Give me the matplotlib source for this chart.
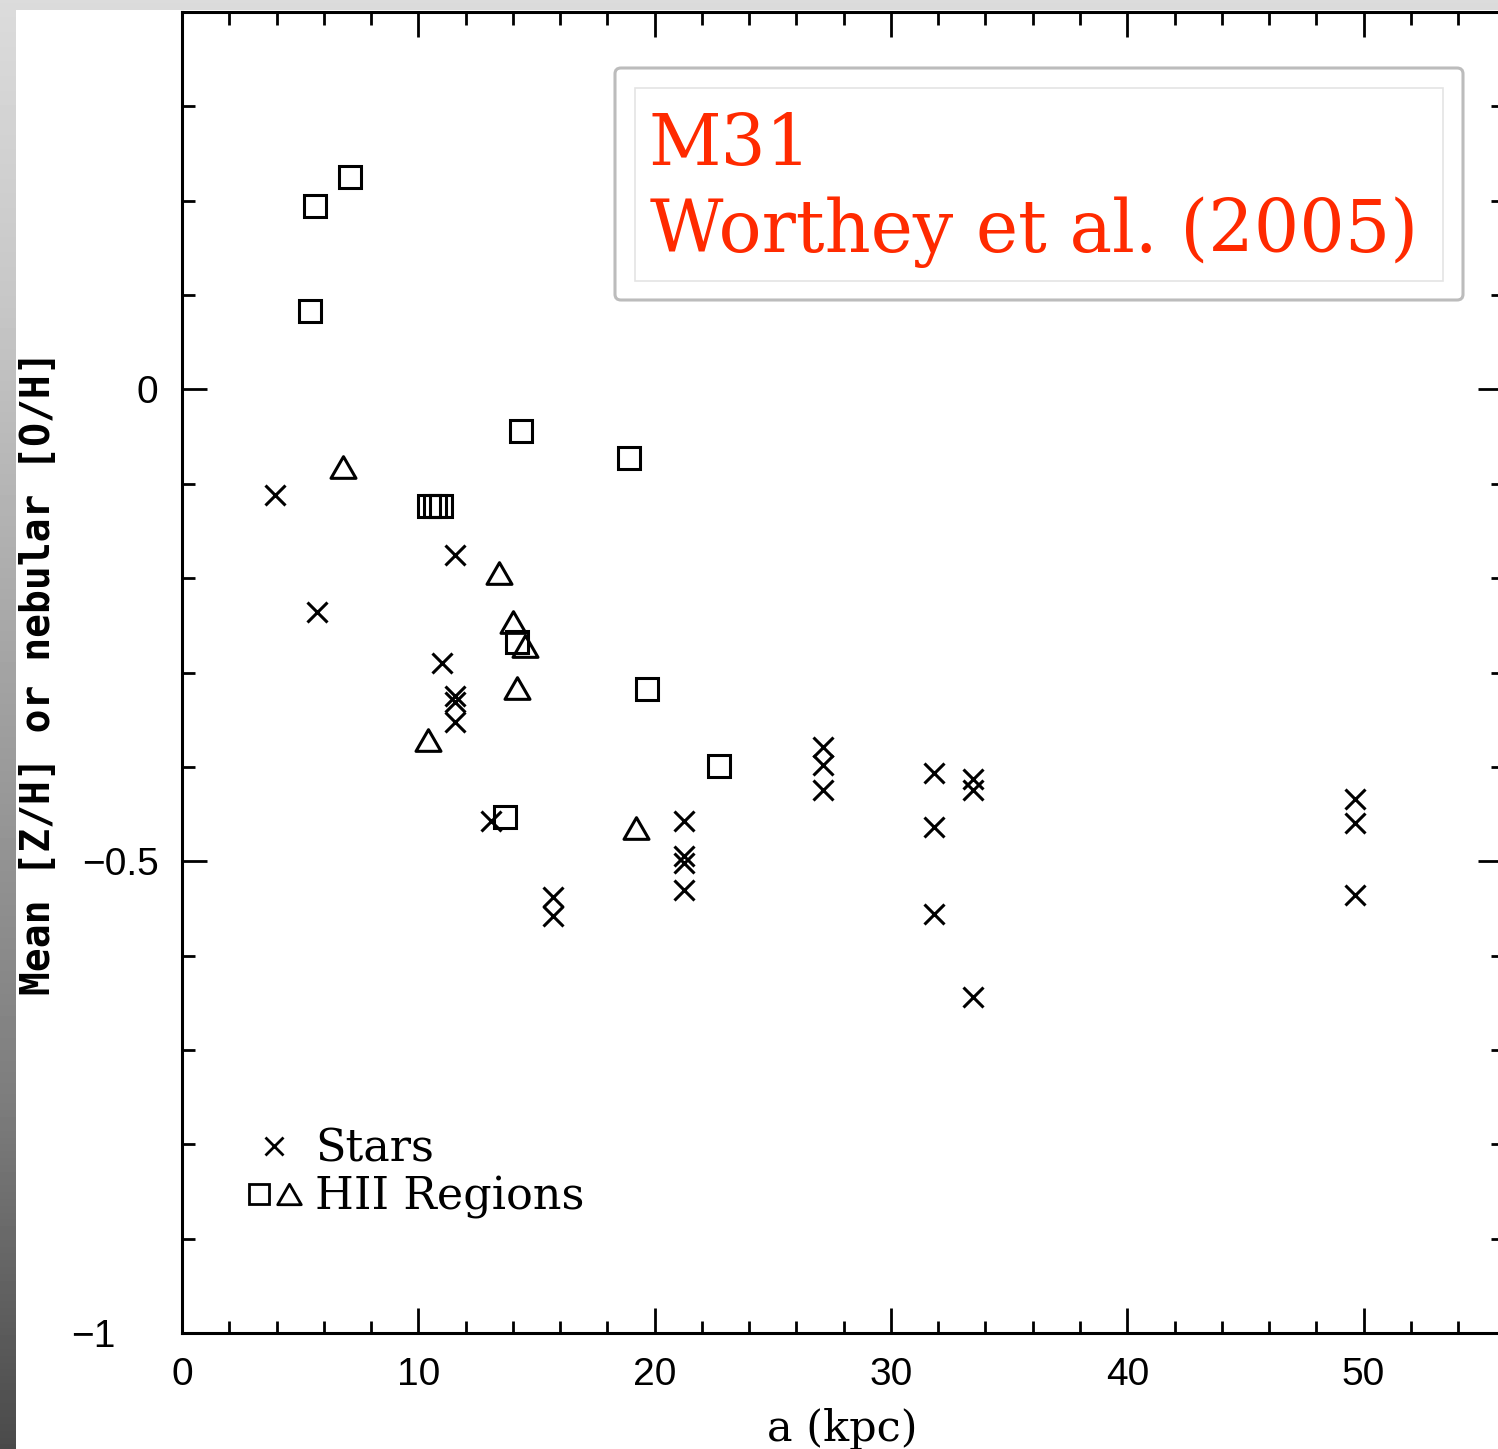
import numpy as np
import matplotlib
matplotlib.use("Agg")
import matplotlib.pyplot as plt
from matplotlib.lines import Line2D
from matplotlib.legend_handler import HandlerTuple
from matplotlib.patches import FancyBboxPatch, Rectangle
from matplotlib.path import Path
from matplotlib.ticker import MultipleLocator

# stars: radius a (kpc) and mean [Z/H]
star_a = [3.93, 11.55, 5.71, 11.0, 11.55, 11.55, 11.55, 13.07, 15.69, 15.69,
          21.24, 21.24, 21.24, 21.24, 27.12, 27.12, 27.12, 31.81, 31.81, 31.81,
          33.46, 33.46, 33.46, 49.62, 49.62, 49.62]
star_z = [-0.112, -0.175, -0.236, -0.290, -0.325, -0.331, -0.352, -0.457, -0.538, -0.558,
          -0.457, -0.495, -0.502, -0.530, -0.379, -0.398, -0.425, -0.407, -0.464, -0.556,
          -0.413, -0.425, -0.644, -0.434, -0.460, -0.536]

# HII regions, squares
sq_a = [7.11, 5.63, 5.41, 14.34, 18.91, 10.45, 10.70, 10.95, 14.17, 19.67, 22.72, 13.66]
sq_oh = [0.225, 0.194, 0.083, -0.044, -0.073, -0.124, -0.124, -0.124, -0.268, -0.318, -0.399, -0.453]

# HII regions, triangles
tri_a = [6.81, 13.41, 14.00, 14.51, 14.17, 10.41, 19.20]
tri_oh = [-0.082, -0.195, -0.247, -0.272, -0.316, -0.372, -0.465]

xticks = [0, 10, 20, 30, 40, 50]
xtick_labels = ["0", "10", "20", "30", "40", "50"]
yticks = [-1, -0.5, 0]
ytick_labels = ["\u22121", "\u22120.5", "0"]

W, H = 1498, 1449
RED = "#ff2a00"
tri = Path([(-1, -0.866), (1, -0.866), (0, 0.866), (-1, -0.866)], closed=True)


def background(fig):
    bg = fig.add_axes([0, 0, 1, 1], zorder=-10)
    bg.axis("off")
    rows = np.arange(H)
    grey = np.interp(rows, [0, 300, 700, 1100, 1449], [0.86, 0.78, 0.63, 0.49, 0.29])
    bg.imshow(np.tile(grey[:, None], (1, 4)), cmap="gray", vmin=0, vmax=1,
              aspect="auto", extent=(0, 1, 0, 1), origin="upper")
    bg.add_patch(Rectangle((16 / W, 0), 1, 1 - 10 / H, color="white", lw=0))
    bg.set_xlim(0, 1)
    bg.set_ylim(0, 1)


def title_box(fig):
    outer = FancyBboxPatch((615 / W, 1 - 300 / H), 848 / W, 232 / H,
                           boxstyle="round,pad=0,rounding_size=0.004",
                           transform=fig.transFigure, facecolor="white",
                           edgecolor="#bcbcbc", lw=2.2, zorder=5)
    inner = Rectangle((635 / W, 1 - 281 / H), 808 / W, 193 / H,
                      transform=fig.transFigure, facecolor="none",
                      edgecolor="#e4e4e4", lw=1.2, zorder=6)
    fig.patches.extend([outer, inner])
    fig.text(648 / W, 1 - 165 / H, "M31", color=RED, fontsize=51,
             family="DejaVu Serif", va="baseline", zorder=7)
    fig.text(650 / W, 1 - 252 / H, "Worthey et al. (2005)", color=RED, fontsize=51.5,
             family="DejaVu Serif", va="baseline", zorder=7)


def main():
    fig = plt.figure(figsize=(W / 100, H / 100), dpi=100)
    background(fig)

    ax = fig.add_axes([182 / W, 1 - 1333 / H, 1321 / W, 1321 / H])
    ax.set_facecolor("white")

    ax.plot(star_a, star_z, ls="none", marker="x", ms=15, mew=2.2, color="black")
    ax.plot(sq_a, sq_oh, ls="none", marker="s", ms=15.5, mew=2.2, mfc="none", mec="black")
    ax.plot(tri_a, tri_oh, ls="none", marker=tri, ms=18, mew=2.2, mfc="none", mec="black")

    ax.set_xlim(0, 55.9)
    ax.set_ylim(-1, 0.4)
    ax.set_xticks(xticks, labels=xtick_labels)
    ax.set_yticks(yticks, labels=ytick_labels)
    ax.xaxis.set_minor_locator(MultipleLocator(2))
    ax.yaxis.set_minor_locator(MultipleLocator(0.1))
    ax.tick_params(which="both", direction="in", top=True, right=True, width=2, color="black")
    ax.tick_params(which="major", length=18, pad=17, labelsize=28)
    ax.tick_params(which="minor", length=9)
    for lab in ax.get_xticklabels() + ax.get_yticklabels():
        lab.set_family("Liberation Sans")
    ax.yaxis.get_major_ticks()[0].set_pad(48)
    for s in ax.spines.values():
        s.set_linewidth(2.2)

    ax.set_xlabel("a (kpc)", family="DejaVu Serif", fontsize=31)
    ax.xaxis.set_label_coords(0.5, -0.057)
    ax.set_ylabel("Mean [Z/H] or nebular [O/H]", family="DejaVu Sans Mono",
                  fontweight="bold", fontsize=28.5, va="center")
    ax.yaxis.set_label_coords(-0.109, 0.5)

    handles = [
        Line2D([], [], ls="none", marker="x", ms=13, mew=2.0, color="black"),
        (Line2D([], [], ls="none", marker="s", ms=14, mew=2.0, mfc="none", mec="black"),
         Line2D([], [], ls="none", marker=tri, ms=17, mew=2.0, mfc="none", mec="black")),
    ]
    ax.legend(handles, ["Stars", "HII Regions"],
              handler_map={tuple: HandlerTuple(ndivide=None, pad=0)},
              loc="lower left", bbox_to_anchor=(0.047, 0.086), frameon=False,
              borderpad=0, borderaxespad=0, numpoints=1, handlelength=1.35,
              handletextpad=0.25, labelspacing=0.12,
              prop={"family": "DejaVu Serif", "size": 32})

    title_box(fig)
    fig.savefig("out.png", dpi=100)


if __name__ == "__main__":
    main()
